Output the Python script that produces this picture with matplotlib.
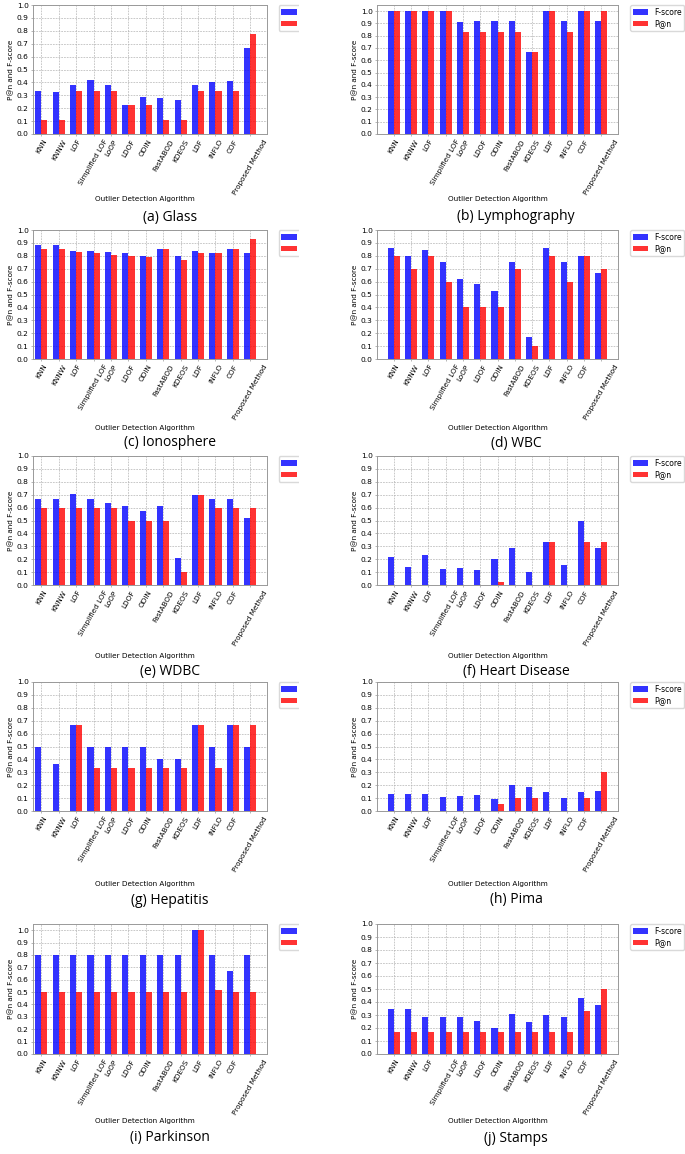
import numpy as np
import matplotlib
matplotlib.use('Agg')
import matplotlib.pyplot as plt
from matplotlib.patches import Rectangle

algorithms = ['KNN', 'KNNW', 'LOF', 'Simplified LOF', 'LoOP', 'LDOF', 'ODIN',
              'FastABOD', 'KDEOS', 'LDF', 'INFLO', 'COF', 'Proposed Method']

glass_f = [0.335, 0.325, 0.378, 0.42, 0.382, 0.222, 0.288, 0.282, 0.26, 0.378, 0.40, 0.412, 0.667]
glass_p = [0.111, 0.111, 0.333, 0.333, 0.333, 0.222, 0.222, 0.111, 0.111, 0.333, 0.333, 0.333, 0.778]
lympho_f = [1.0, 1.0, 1.0, 1.0, 0.909, 0.923, 0.923, 0.923, 0.667, 1.0, 0.923, 1.0, 0.923]
lympho_p = [1.0, 1.0, 1.0, 1.0, 0.833, 0.833, 0.833, 0.833, 0.667, 1.0, 0.833, 1.0, 1.0]
iono_f = [0.882, 0.882, 0.835, 0.835, 0.827, 0.82, 0.796, 0.856, 0.796, 0.835, 0.82, 0.856, 0.82]
iono_p = [0.85, 0.856, 0.833, 0.825, 0.81, 0.8, 0.79, 0.856, 0.767, 0.825, 0.82, 0.85, 0.929]
wbc_f = [0.857, 0.8, 0.843, 0.75, 0.62, 0.585, 0.53, 0.75, 0.167, 0.857, 0.75, 0.8, 0.667]
wbc_p = [0.8, 0.7, 0.8, 0.6, 0.4, 0.4, 0.4, 0.7, 0.1, 0.8, 0.6, 0.8, 0.7]
wdbc_f = [0.667, 0.667, 0.706, 0.667, 0.638, 0.61, 0.573, 0.61, 0.207, 0.7, 0.667, 0.667, 0.521]
wdbc_p = [0.6, 0.6, 0.6, 0.6, 0.6, 0.5, 0.5, 0.5, 0.1, 0.7, 0.6, 0.6, 0.6]
heart_f = [0.22, 0.143, 0.236, 0.127, 0.135, 0.117, 0.2, 0.288, 0.104, 0.335, 0.156, 0.5, 0.288]
heart_p = [0, 0, 0, 0, 0, 0, 0.02, 0, 0, 0.333, 0, 0.333, 0.333]
hepa_f = [0.5, 0.367, 0.667, 0.5, 0.5, 0.5, 0.5, 0.4, 0.4, 0.667, 0.5, 0.667, 0.5]
hepa_p = [0, 0, 0.667, 0.333, 0.333, 0.333, 0.333, 0.333, 0.333, 0.667, 0.333, 0.667, 0.667]
pima_f = [0.135, 0.135, 0.13, 0.112, 0.117, 0.122, 0.094, 0.198, 0.185, 0.146, 0.1, 0.146, 0.153]
pima_p = [0, 0, 0, 0, 0, 0, 0.055, 0.1, 0.1, 0, 0, 0.1, 0.3]
park_f = [0.8, 0.8, 0.8, 0.8, 0.8, 0.8, 0.8, 0.8, 0.8, 1.0, 0.8, 0.667, 0.8]
park_p = [0.5, 0.5, 0.5, 0.5, 0.5, 0.5, 0.5, 0.5, 0.5, 1.0, 0.513, 0.5, 0.5]
stamps_f = [0.345, 0.347, 0.288, 0.288, 0.288, 0.251, 0.2, 0.308, 0.246, 0.303, 0.288, 0.433, 0.378]
stamps_p = [0.167, 0.167, 0.167, 0.167, 0.167, 0.167, 0.167, 0.167, 0.167, 0.167, 0.167, 0.333, 0.5]

captions = ['(a) Glass', '(b) Lymphography', '(c) Ionosphere', '(d) WBC', '(e) WDBC',
            '(f) Heart Disease', '(g) Hepatitis', '(h) Pima', '(i) Parkinson', '(j) Stamps']
fscores = [glass_f, lympho_f, iono_f, wbc_f, wdbc_f, heart_f, hepa_f, pima_f, park_f, stamps_f]
pscores = [glass_p, lympho_p, iono_p, wbc_p, wdbc_p, heart_p, hepa_p, pima_p, park_p, stamps_p]

W, H = 685, 1154
fig = plt.figure(figsize=(W / 100, H / 100), dpi=100)

# pixel layout of each panel
col_x = [(33, 267), (377, 618)]
col_xlim = [(-0.48, 12.96), (-0.97, 12.97)]
row_y = [(5, 134), (230, 359), (456, 585), (682, 811), (924, 1054)]
xlabel_y = [199, 428, 656, 884, 1121]
caption_y = [217, 443, 672, 900, 1138]
caption_x = [170, 516]

fs = 5.2
w = 0.35
index = np.arange(len(algorithms))

for k in range(10):
    r, c = k // 2, k % 2
    x0, x1 = col_x[c]
    y0, y1 = row_y[r]
    ax = fig.add_axes([x0 / W, 1 - y1 / H, (x1 - x0) / W, (y1 - y0) / H])
    ax.set_axisbelow(True)
    ax.bar(index - w / 2, fscores[k], w, color='b', alpha=0.8, label='F-score')
    ax.bar(index + w / 2, pscores[k], w, color='r', alpha=0.8, label='P@n')
    ax.set_xticks(index)
    ax.set_xticklabels(algorithms, rotation=60, fontsize=fs)
    ax.set_yticks(np.arange(0, 1.01, 0.1))
    ax.set_yticklabels(['%.1f' % v for v in np.arange(0, 1.01, 0.1)], fontsize=5.4)
    ax.set_xlim(col_xlim[c])
    if k in (1, 8):
        ax.set_ylim(0, 1.05)
    else:
        ax.set_ylim(0, 1.0)
    ax.set_ylabel('P@n and F-score', fontsize=fs, labelpad=2)
    ax.tick_params(length=1.6, width=0.4, pad=1.5, color='0.5')
    ax.grid(True, linestyle=(0, (2.5, 1.5)), linewidth=0.5, color='0.7')
    for s in ax.spines.values():
        s.set_color('0.6')
        s.set_linewidth(0.7)
    ax.legend(loc='upper left', bbox_to_anchor=(1.05, 1.0), fontsize=5.5,
              borderaxespad=0, handlelength=2.0, handleheight=0.7,
              labelspacing=0.3, borderpad=0.35,
              framealpha=1, edgecolor='0.85')
    fig.text((x0 + x1) / 2 / W - (5 / W if c == 0 else 0), 1 - xlabel_y[r] / H,
             'Outlier Detection Algorithm', fontsize=fs, ha='center', va='center')
    fig.text(caption_x[c] / W, 1 - caption_y[r] / H, captions[k], fontsize=10,
             family='Open Sans', ha='center', va='center')

# left panels are cut off just after the legend patches
fig.patches.append(Rectangle((299 / W, 0), 45 / W, 1, transform=fig.transFigure,
                             facecolor='white', edgecolor='none', zorder=10))

fig.savefig('out.png', dpi=100)
